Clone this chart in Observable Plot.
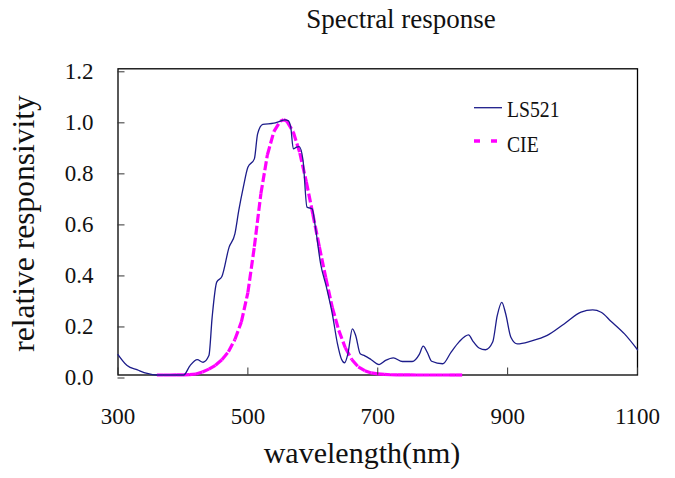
<!DOCTYPE html>
<html>
<head>
<meta charset="utf-8">
<script src="https://cdn.jsdelivr.net/npm/d3@7"></script>
<script src="https://cdn.jsdelivr.net/npm/@observablehq/plot@0.6"></script>
<style>
  html, body { margin: 0; padding: 0; background: #fff; }
  #chart { width: 675px; height: 478px; }
</style>
</head>
<body>
<div id="chart"></div>
<script>
const lsNm = [300,314,330,345,360,380,401,411,422,431,440,445,452,460,471,480,486,493,500,510,515,523,540,548,557,562,566,570,575,579,585,591,599,604,612,621,630,638,644,649,654,661,666,673,680,690,702,712,724,738,753,764,770,776,783,800,813,825,840,846,856,866,877,884,891,897,905,915,936,961,987,1013,1031,1044,1059,1080,1100];
const lsVal = [0.08,0.037,0.02,0.006,0.0,0.0,0.0,0.037,0.06,0.05,0.076,0.227,0.364,0.386,0.50,0.553,0.645,0.736,0.814,0.847,0.945,0.982,0.987,0.993,1.0,0.997,0.971,0.886,0.893,0.895,0.84,0.658,0.651,0.579,0.436,0.344,0.24,0.122,0.063,0.048,0.083,0.181,0.155,0.083,0.075,0.06,0.041,0.057,0.067,0.053,0.053,0.081,0.113,0.09,0.054,0.044,0.09,0.129,0.157,0.135,0.106,0.099,0.129,0.233,0.285,0.24,0.148,0.122,0.133,0.155,0.2,0.246,0.255,0.246,0.211,0.161,0.099];

// CIE photopic luminous efficiency V(λ)
const cieNm = [360,370,380,390,400,410,420,430,440,450,460,470,480,490,500,510,520,530,540,550,555,560,570,580,590,600,610,620,630,640,650,660,670,680,690,700,710,720,730,740,750,760,770,780,790,800,810,820,830];
const cieVal = [0.0000039,0.000012,0.000039,0.00012,0.000396,0.00121,0.004,0.0116,0.023,0.038,0.06,0.09098,0.13902,0.20802,0.323,0.503,0.71,0.862,0.954,0.99495,1.0,0.995,0.952,0.87,0.757,0.631,0.503,0.381,0.265,0.175,0.107,0.061,0.032,0.017,0.00821,0.004102,0.002091,0.001047,0.00052,0.000249,0.00012,0.00006,0.00003,0.000015,0.0000075,0.0000037,0.0000019,0.0000009,0.0000005];

const xTicks = [300,500,700,900,1100];
const yTicks = [0,0.2,0.4,0.6,0.8,1.0,1.2];

const ls = lsNm.map((x, i) => ({x, y: lsVal[i]}));
const cieSeg = cieNm.slice(1).map((x2, i) => ({x1: cieNm[i], y1: cieVal[i], x2, y2: cieVal[i + 1]}));

const font = "'Liberation Serif', 'Times New Roman', serif";
const navy = "#1c1c8a";
const magenta = "#ff00ff";

const plot = Plot.plot({
  width: 675,
  height: 478,
  marginLeft: 117.5,
  marginRight: 38,
  marginTop: 68.3,
  marginBottom: 103.5,
  style: {fontFamily: font, background: "#fff", color: "#111"},
  x: {domain: [300, 1100]},
  y: {domain: [0, 1.2]},
  marks: [
    Plot.frame({stroke: "#000", strokeWidth: 1.3}),
    Plot.link(cieSeg, {x1: "x1", y1: "y1", x2: "x2", y2: "y2", stroke: magenta, strokeWidth: 3.2, strokeDasharray: "9,3", strokeLinecap: "butt"}),
    Plot.line(ls, {x: "x", y: "y", stroke: navy, strokeWidth: 1.3, curve: "monotone-x"}),
    Plot.axisX({ticks: xTicks, tickSize: -7, tickPadding: 39.8, fontSize: 23, label: null, tickFormat: d3.format("d"), stroke: "#333"}),
    Plot.axisY({ticks: yTicks, tickSize: -7, tickPadding: 31.5, fontSize: 23, label: null, tickFormat: d3.format(".1f"), dy: 3, stroke: "#333"})
  ]
});

document.getElementById("chart").appendChild(plot);

const svg = d3.select(plot);
const g = svg.append("g").attr("font-family", font).attr("fill", "#111");

g.append("text").attr("x", 401).attr("y", 27.7).attr("text-anchor", "middle").attr("font-size", 27).text("Spectral response");
g.append("text").attr("x", 362).attr("y", 463).attr("text-anchor", "middle").attr("font-size", 30).text("wavelength(nm)");
g.append("text").attr("transform", "translate(33.5,223.5) rotate(-90)").attr("text-anchor", "middle").attr("font-size", 31.5).text("relative responsivity");

// legend
g.append("line").attr("x1", 474).attr("x2", 502).attr("y1", 107.7).attr("y2", 107.7).attr("stroke", navy).attr("stroke-width", 1.3);
g.append("text").attr("transform", "translate(507,117.3) scale(0.82,1)").attr("text-anchor", "start").attr("font-size", 24).text("LS521");
g.append("line").attr("x1", 474).attr("x2", 497).attr("y1", 141).attr("y2", 141).attr("stroke", magenta).attr("stroke-width", 3.3).attr("stroke-dasharray", "6,11");
g.append("text").attr("transform", "translate(507,151.7) scale(0.82,1)").attr("text-anchor", "start").attr("font-size", 24).text("CIE");
</script>
</body>
</html>
